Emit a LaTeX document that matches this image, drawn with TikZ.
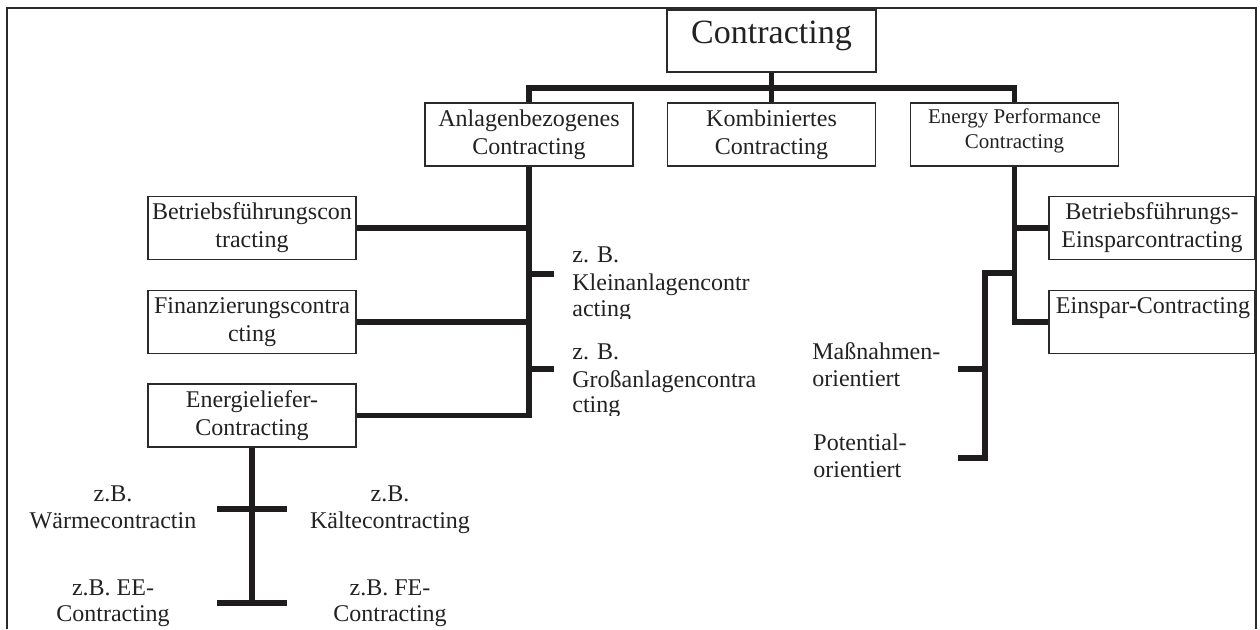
\documentclass[tikz,border=0pt]{standalone}
\usepackage{fontspec}
\setmainfont{Liberation Serif}
\definecolor{barcol}{HTML}{1E1C1D}
\definecolor{boxline}{HTML}{2A2A2A}
\definecolor{txt}{HTML}{222222}
\begin{document}
\begin{tikzpicture}[x=0.5pt,y=-0.5pt,
  box/.style={draw=boxline, line width=0.9pt, rectangle, inner sep=0pt,
    minimum width=104pt, minimum height=31.5pt, align=center,
    font=\fontsize{12}{14}\selectfont, text=txt},
  conn/.style={draw=barcol, line width=2.6pt, line join=miter},
  lbl/.style={inner sep=0pt, font=\fontsize{12}{14}\selectfont, text=txt},
  frame/.style={draw=boxline, line width=0.9pt}]
\useasboundingbox (0,0) rectangle (1260,629);

% outer frame (open at the bottom)
\draw[frame] (7,629) -- (7,8) -- (1256,8) -- (1256,629);

% top level
\node[box, minimum width=104.5pt, minimum height=31pt] (title) at (771.5,41) {};
\node[lbl, font=\fontsize{17}{20}\selectfont, anchor=base] (titletext) at (771.5,43) {Contracting};

% second level
\node[box] (anl) at (529,134.5) {Anlagenbezogenes\\Contracting};
\node[box] (komb) at (771.5,134.5) {Kombiniertes\\Contracting};
\node[box] (ep) at (1014.5,134.5) {};
\node[lbl, font=\fontsize{10.5}{12.5}\selectfont, align=center] (eptext) at (1014.5,131) {Energy Performance\\Contracting};

% left branch boxes
\node[box] (betr) at (252,228) {Betriebsführungscon\\tracting};
\node[box] (fin) at (252,322) {Finanzierungscontra\\cting};
\node[box] (energ) at (252,415.5) {Energieliefer-\\Contracting};

% right branch boxes
\node[box, minimum width=103pt] (beins) at (1152,228) {Betriebsführungs-\\Einsparcontracting};
\node[box, minimum width=103pt] (einsp) at (1152,322) {};
\node[lbl, anchor=base] (einsptext) at (1153,313) {Einspar-Contracting};

% connectors from the top
\coordinate (bar) at (771.5,88);
\draw[conn] (title.south) -- (komb.north);
\draw[conn] (anl.north) |- (bar) -| (ep.north);

% left trunk
\draw[conn] (anl.south) |- (energ.east);
\draw[conn] (betr.east) -- (betr.east -| anl.south);
\draw[conn] (fin.east) -- (fin.east -| anl.south);
\coordinate (kleinend) at (554,274);
\coordinate (grossend) at (554,369);
\draw[conn] (kleinend -| anl.south) -- (kleinend);
\draw[conn] (grossend -| anl.south) -- (grossend);

% right trunk
\draw[conn] (ep.south) |- (einsp.west);
\draw[conn] (beins.west -| ep.south) -- (beins.west);
\coordinate (brtop) at (985,273);
\coordinate (mstub) at (958,369);
\coordinate (pstub) at (958,458);
\draw[conn] (brtop -| ep.south) -- (brtop) |- (pstub);
\draw[conn] (mstub) -- (mstub -| brtop);

% energy supply trunk
\coordinate (wl) at (217,509);
\coordinate (wr) at (287,509);
\coordinate (el) at (217,603);
\coordinate (er) at (287,603);
\draw[conn] (energ.south) -- (energ.south |- el);
\draw[conn] (wl) -- (wr);
\draw[conn] (el) -- (er);

% examples beside the left trunk (text boxes cut at the bottom)
\begin{scope}
  \clip (560,240) rectangle (800,318);
  \node[lbl, anchor=base west] (klein1) at (572,262) {z. B.};
  \node[lbl, anchor=base west] (klein2) at (572,290) {Kleinanlagencontr};
  \node[lbl, anchor=base west] (klein3) at (572,316) {acting};
\end{scope}
\begin{scope}
  \clip (560,335) rectangle (800,415);
  \node[lbl, anchor=base west] (gross1) at (572,359) {z. B.};
  \node[lbl, anchor=base west] (gross2) at (572,387) {Großanlagencontra};
  \node[lbl, anchor=base west] (gross3) at (572,412) {cting};
\end{scope}

% bracket labels
\node[lbl, anchor=base west] (mass1) at (812,359) {Maßnahmen-};
\node[lbl, anchor=base west] (mass2) at (812,386) {orientiert};
\node[lbl, anchor=base west] (pot1) at (813,450) {Potential-};
\node[lbl, anchor=base west] (pot2) at (813,477) {orientiert};

% energy supply examples
\node[lbl, anchor=base] (w1) at (113,501) {z.B.};
\node[lbl, anchor=base] (w2) at (113,528) {Wärmecontractin};
\node[lbl, anchor=base] (k1) at (390,501) {z.B.};
\node[lbl, anchor=base] (k2) at (390,528) {Kältecontracting};
\node[lbl, anchor=base] (ee1) at (113,595) {z.B. EE-};
\node[lbl, anchor=base] (ee2) at (113,621) {Contracting};
\node[lbl, anchor=base] (fe1) at (390,595) {z.B. FE-};
\node[lbl, anchor=base] (fe2) at (390,621) {Contracting};
\end{tikzpicture}
\end{document}
